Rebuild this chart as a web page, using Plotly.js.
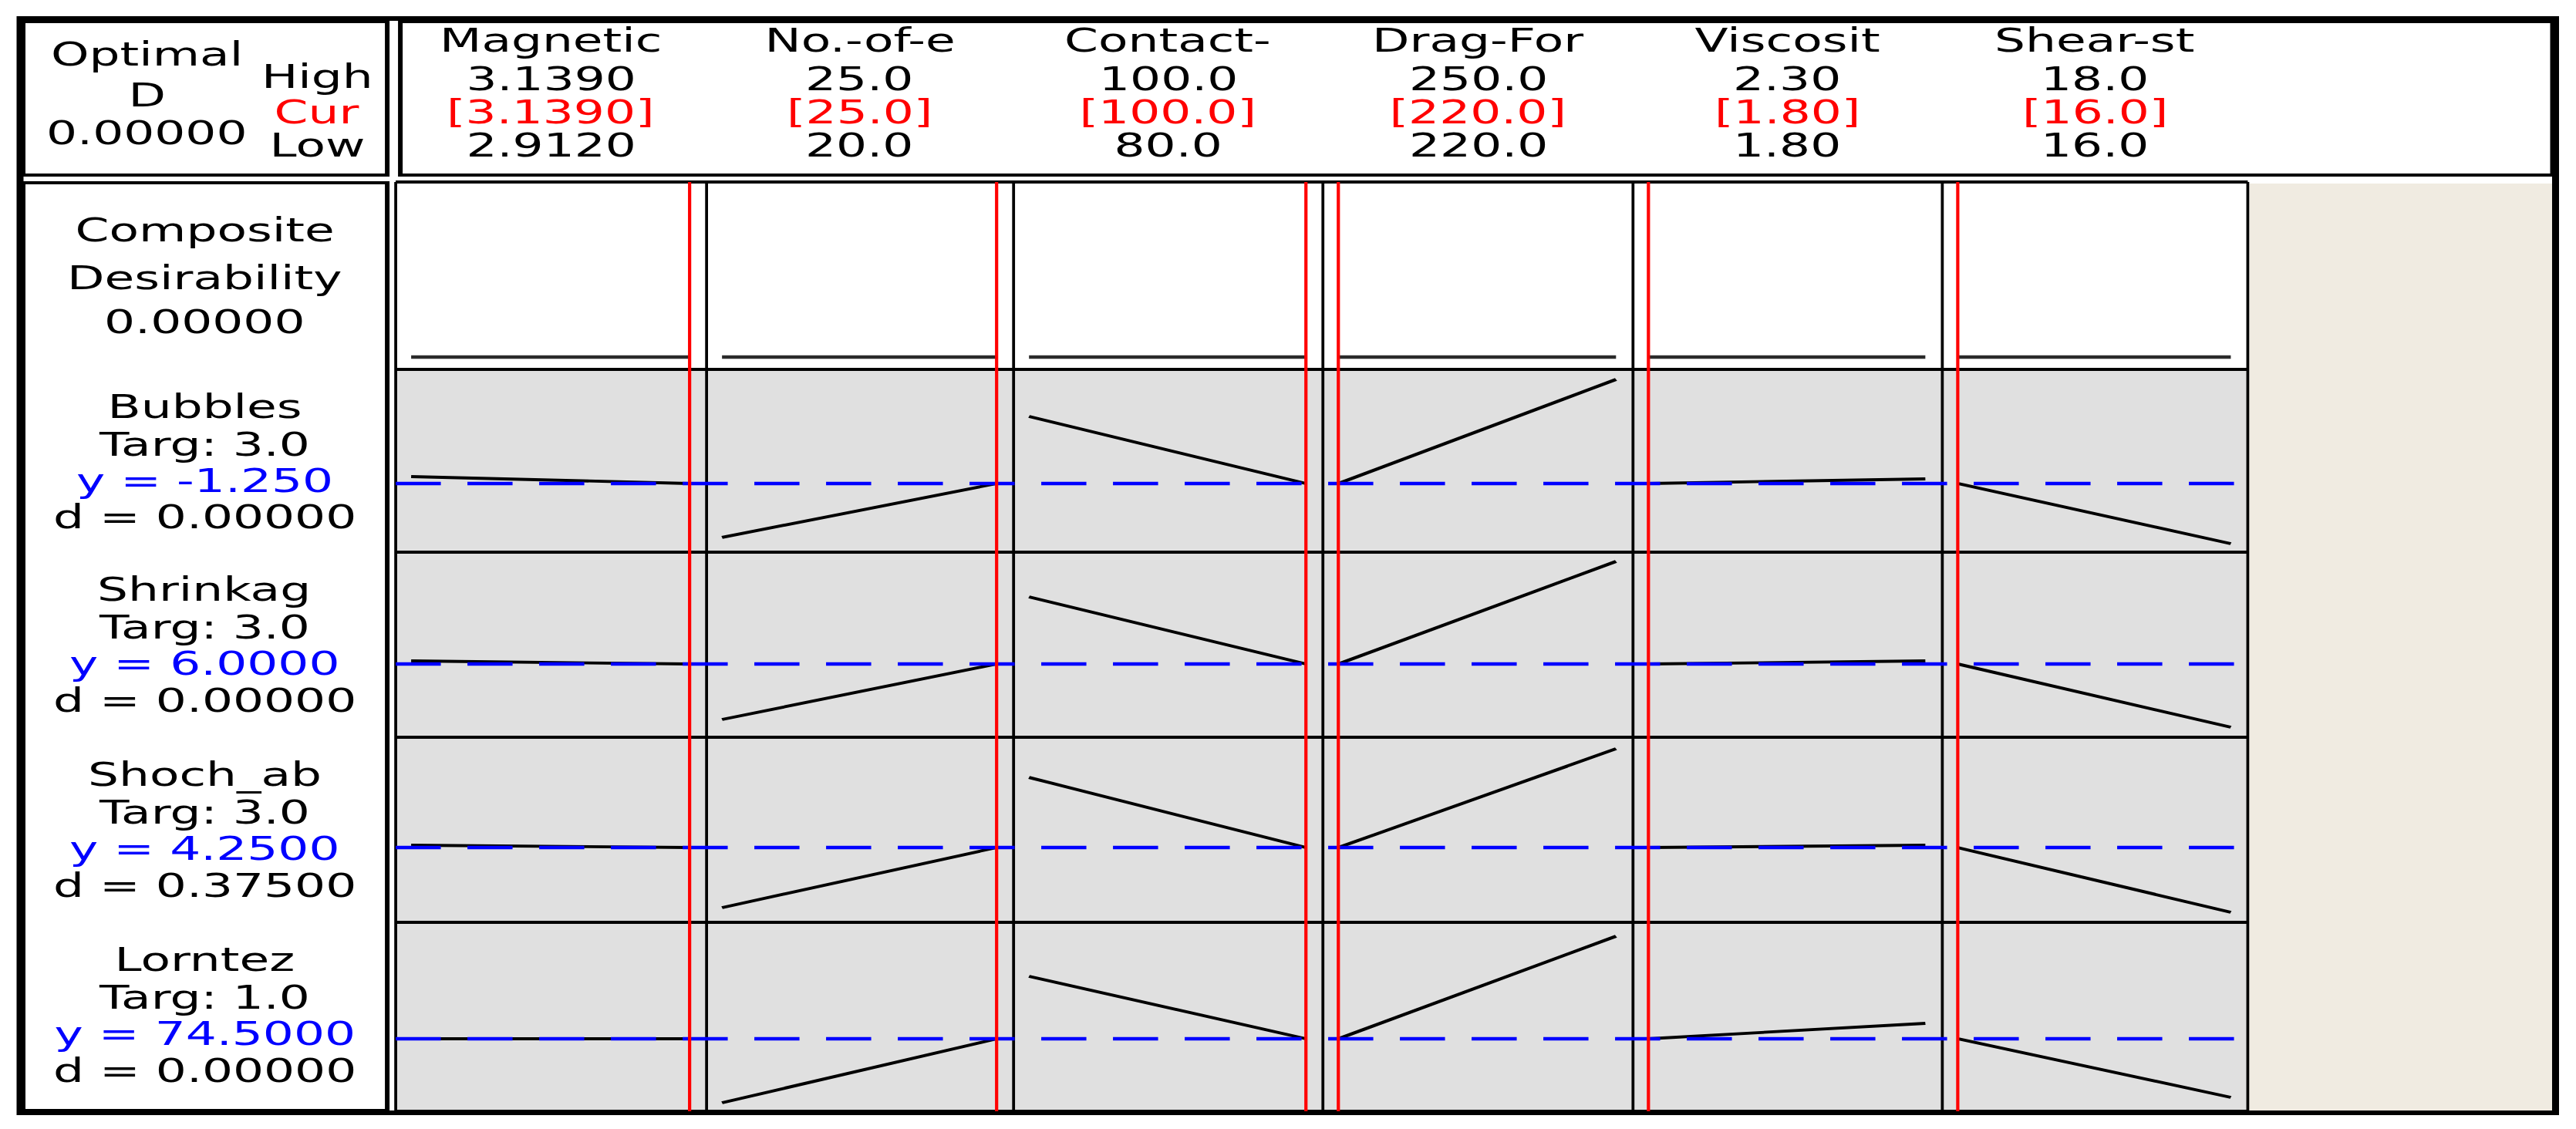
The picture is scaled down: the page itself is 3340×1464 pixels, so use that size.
<!DOCTYPE html>
<html><head><meta charset="utf-8">
<script src="https://cdn.plot.ly/plotly-3.0.1.min.js"></script>
<style>
html,body{margin:0;padding:0;background:#fff;overflow:hidden;}
#chart{width:2227px;height:1464px;transform:scaleX(1.5);transform-origin:0 0;}
</style></head><body><div id="chart"></div>
<script>
// ---------- data ----------
const factors = ["Magnetic", "No.-of-e", "Contact-", "Drag-For", "Viscosit", "Shear-st"];
const factorHigh = [3.139, 25.0, 100.0, 250.0, 2.30, 18.0];
const factorCur  = [3.139, 25.0, 100.0, 220.0, 1.80, 16.0];
const factorLow  = [2.912, 20.0, 80.0, 220.0, 1.80, 16.0];
const factorDecimals = [4, 1, 1, 1, 2, 1];

const responses = ["Bubbles", "Shrinkag", "Shoch_ab", "Lorntez"];
const targets = [3.0, 3.0, 3.0, 1.0];
const predicted = [-1.25, 6.0, 4.25, 74.5];
const predDecimals = [3, 4, 4, 4];
const desirability = [0.0, 0.0, 0.375, 0.0];
const compositeD = 0.0;

// response values at each factor's low / high setting (others held at current)
const compositeAtLow  = [0, 0, 0, 0, 0, 0];
const compositeAtHigh = [0, 0, 0, 0, 0, 0];
const bubblesAtLow   = [-0.95, -3.58, 1.65, -1.25, -1.25, -1.25];
const bubblesAtHigh  = [-1.25, -1.25, -1.25, 3.25, -1.05, -3.85];
const shrinkagAtLow  = [6.16, 3.12, 9.48, 6.0, 6.0, 6.0];
const shrinkagAtHigh = [6.0, 6.0, 6.0, 11.32, 6.16, 2.72];
const shochAtLow     = [4.35, 1.65, 7.28, 4.25, 4.25, 4.25];
const shochAtHigh    = [4.25, 4.25, 4.25, 8.52, 4.35, 1.45];
const lorntezAtLow   = [74.5, 57.9, 90.7, 74.5, 74.5, 74.5];
const lorntezAtHigh  = [74.5, 74.5, 74.5, 101.1, 78.5, 59.3];

// ---------- layout geometry (reference pixels) ----------
const W = 3340, H = 1464;
const px = X => X / W;
const py = Y => 1 - Y / H;
const colEdges = [513, 916, 1314, 1715, 2117, 2518, 2914];
const rowEdges = [236, 479, 716, 956, 1196, 1441];
const yRanges = [[-0.07, 1.0], [-4.217, 3.683], [2.2, 11.8], [1.017, 9.017], [55.7, 104.7]];
const padL = 20, padR = 22;

const rowsAtLow  = [compositeAtLow, bubblesAtLow, shrinkagAtLow, shochAtLow, lorntezAtLow];
const rowsAtHigh = [compositeAtHigh, bubblesAtHigh, shrinkagAtHigh, shochAtHigh, lorntezAtHigh];

const xName = i => i === 0 ? 'x' : 'x' + (i + 1);
const yName = r => r === 0 ? 'y' : 'y' + (r + 1);

const traces = [];
for (let r = 0; r < 5; r++) {
  for (let i = 0; i < 6; i++) {
    traces.push({
      type: 'scatter', mode: 'lines',
      x: [factorLow[i], factorHigh[i]],
      y: [rowsAtLow[r][i], rowsAtHigh[r][i]],
      xaxis: xName(i), yaxis: yName(r),
      line: {color: r === 0 ? '#2a2a2a' : '#000000', width: r === 0 ? 4.5 : 3.8},
      hoverinfo: 'skip', showlegend: false
    });
  }
}

const layout = {
  width: 2227, height: 1464,
  margin: {l: 0, r: 0, t: 0, b: 0, pad: 0},
  paper_bgcolor: '#ffffff', plot_bgcolor: 'rgba(0,0,0,0)',
  showlegend: false,
  shapes: [], annotations: []
};

for (let i = 0; i < 6; i++) {
  const L = colEdges[i], R = colEdges[i + 1];
  const d = factorHigh[i] - factorLow[i];
  const inner = (R - L) - padL - padR;
  layout[i === 0 ? 'xaxis' : 'xaxis' + (i + 1)] = {
    domain: [px(L), px(R)],
    range: [factorLow[i] - padL / inner * d, factorHigh[i] + padR / inner * d],
    visible: false, fixedrange: true
  };
}
for (let r = 0; r < 5; r++) {
  layout[r === 0 ? 'yaxis' : 'yaxis' + (r + 1)] = {
    domain: [py(rowEdges[r + 1]), py(rowEdges[r])],
    range: yRanges[r], visible: false, fixedrange: true
  };
}

const S = layout.shapes;
function rect(x0, y0, x1, y1, opts) {
  return Object.assign({type: 'rect', xref: 'paper', yref: 'paper',
    x0: px(x0), x1: px(x1), y0: py(y1), y1: py(y0)}, opts);
}
function pline(x0, y0, x1, y1, w) {
  return {type: 'line', xref: 'paper', yref: 'paper', x0: px(x0), x1: px(x1), y0: py(y0), y1: py(y1),
    line: {color: '#000', width: w}};
}
// backgrounds
S.push(rect(colEdges[0], rowEdges[1], colEdges[6], rowEdges[5], {fillcolor: '#E0E0E0', line: {width: 0}, layer: 'below'}));
S.push(rect(2916, 238, 3309, 1440, {fillcolor: '#F0EBE1', line: {width: 0}, layer: 'below'}));
// grid borders
rowEdges.forEach(Y => S.push(pline(colEdges[0], Y, colEdges[6], Y, 4)));
colEdges.forEach(X => S.push(pline(X, rowEdges[0], X, rowEdges[5], 2.5)));
// boxes
S.push(rect(30, 237, 502, 1440, {line: {color: '#000', width: 4}}));
S.push(rect(30, 28, 502, 227, {line: {color: '#000', width: 4}}));
S.push(rect(519, 28, 3309, 227, {line: {color: '#000', width: 4}}));
S.push(rect(26, 24, 3313, 1443, {line: {color: '#000', width: 6}}));
// blue dashed current predicted lines
for (let r = 1; r < 5; r++) {
  S.push({type: 'line', xref: 'paper', yref: yName(r), x0: px(colEdges[0]), x1: px(colEdges[6]),
    y0: predicted[r - 1], y1: predicted[r - 1],
    line: {color: '#0000FF', width: 4.5, dash: '39px,23px'}});
}
// red current-setting lines
for (let i = 0; i < 6; i++) {
  S.push({type: 'line', xref: xName(i), yref: 'paper', x0: factorCur[i], x1: factorCur[i],
    y0: py(rowEdges[5]), y1: py(rowEdges[0]), line: {color: '#FF0000', width: 2.8}});
}

// ---------- text ----------
const A = layout.annotations;
function ann(text, X, Y, color) {
  A.push({text: text, x: px(X), y: py(Y), xref: 'paper', yref: 'paper', showarrow: false,
    xanchor: 'center', yanchor: 'middle',
    font: {family: 'DejaVu Sans, Verdana, sans-serif', size: 42, color: color || '#000000'}});
}
ann('Optimal', 191, 70);
ann('D', 191, 124);
ann(compositeD.toFixed(5), 191, 172);
ann('High', 411, 100);
ann('Cur', 411, 145, '#FF0000');
ann('Low', 411, 189);
for (let i = 0; i < 6; i++) {
  const cx = (colEdges[i] + colEdges[i + 1]) / 2;
  ann(factors[i], cx, 53);
  ann(factorHigh[i].toFixed(factorDecimals[i]), cx, 102);
  ann('[' + factorCur[i].toFixed(factorDecimals[i]) + ']', cx, 145, '#FF0000');
  ann(factorLow[i].toFixed(factorDecimals[i]), cx, 188);
}
ann('Composite', 265, 299);
ann('Desirability', 265, 360);
ann(compositeD.toFixed(5), 265, 418);
for (let r = 0; r < 4; r++) {
  const top = rowEdges[r + 1];
  ann(responses[r], 265, top + 48);
  ann('Targ: ' + targets[r].toFixed(1), 265, top + 97);
  ann('y = ' + predicted[r].toFixed(predDecimals[r]), 265, top + 144, '#0000FF');
  ann('d = ' + desirability[r].toFixed(5), 265, top + 192);
}

Plotly.newPlot('chart', traces, layout, {displayModeBar: false, staticPlot: true});
</script></body></html>
